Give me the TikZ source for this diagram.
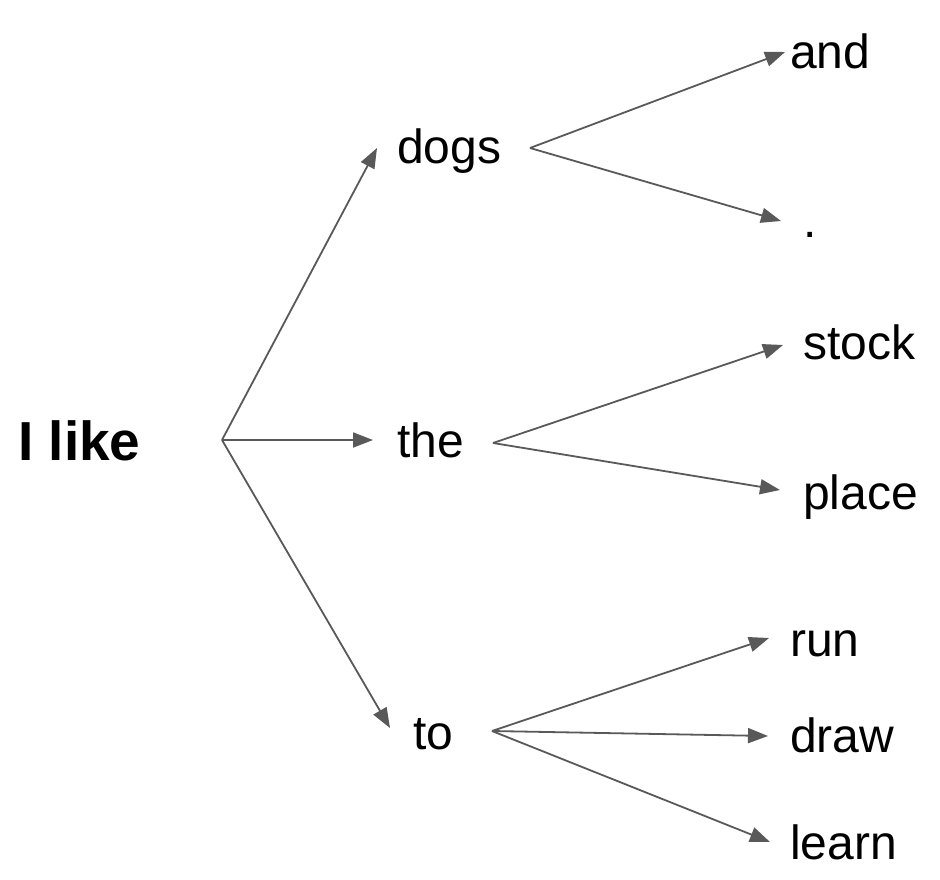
\documentclass[tikz,border=0pt]{standalone}
\usepackage{fontspec}
\setmainfont{Liberation Sans}
\usetikzlibrary{arrows.meta}
\definecolor{arrgray}{HTML}{595959}
\begin{document}
\begin{tikzpicture}[x=1pt,y=-1pt,
  word/.style={anchor=base west,inner sep=0pt,font=\fontsize{48}{52}\selectfont},
  bigword/.style={anchor=base west,inner sep=0pt,font=\fontsize{55}{60}\selectfont\bfseries},
  arr/.style={draw=arrgray,line width=1.8pt,-{Triangle[length=20pt,width=15pt]}}]
\useasboundingbox (0,0) rectangle (940,880);
% words
\node[bigword] (ilike) at (18,460) {I like};
\node[word] (dogs) at (397,164) {dogs};
\node[word] (the) at (397,457) {the};
\node[word] (to) at (413,749) {to};
\node[word] (and) at (790,69) {and};
\node[word] (dot) at (803,237) {.};
\node[word] (stock) at (803,359) {stock};
\node[word] (place) at (803,509) {place};
\node[word] (run) at (790,656) {run};
\node[word] (draw) at (790,752) {draw};
\node[word] (learn) at (790,859) {learn};
% fork points
\coordinate (f0) at (222,440);
\coordinate (f1) at (530,148);
\coordinate (f2) at (493,443);
\coordinate (f3) at (492,731);
% arrow targets
\coordinate (t-dogs) at (377,148);
\coordinate (t-the) at (373,440);
\coordinate (t-to) at (390,728);
\coordinate (t-and) at (785,52);
\coordinate (t-dot) at (781,221);
\coordinate (t-stock) at (783,345);
\coordinate (t-place) at (780,490);
\coordinate (t-run) at (769,638);
\coordinate (t-draw) at (768,736);
\coordinate (t-learn) at (770,842);
% connectors
\draw[arr] (f0) -- (t-dogs);
\draw[arr] (f0) -- (t-the);
\draw[arr] (f0) -- (t-to);
\draw[arr] (f1) -- (t-and);
\draw[arr] (f1) -- (t-dot);
\draw[arr] (f2) -- (t-stock);
\draw[arr] (f2) -- (t-place);
\draw[arr] (f3) -- (t-run);
\draw[arr] (f3) -- (t-draw);
\draw[arr] (f3) -- (t-learn);
\end{tikzpicture}
\end{document}
